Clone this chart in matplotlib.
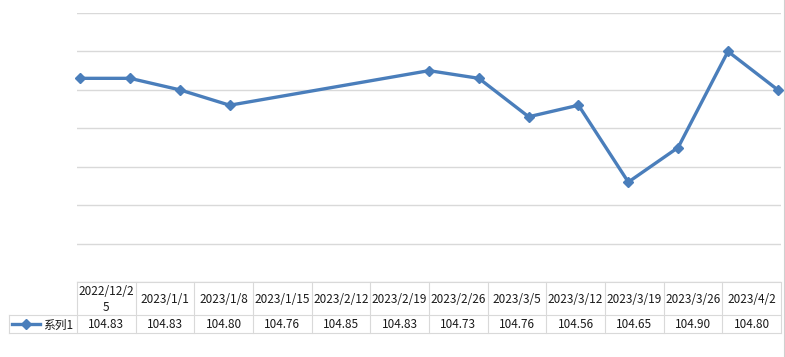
import numpy as np
import matplotlib
matplotlib.use('Agg')
import matplotlib.pyplot as plt
from datetime import date

dates = [date(2022, 12, 25), date(2023, 1, 1), date(2023, 1, 8), date(2023, 1, 15),
         date(2023, 2, 12), date(2023, 2, 19), date(2023, 2, 26), date(2023, 3, 5),
         date(2023, 3, 12), date(2023, 3, 19), date(2023, 3, 26), date(2023, 4, 2)]
labels = ['2022/12/25', '2023/1/1', '2023/1/8', '2023/1/15', '2023/2/12', '2023/2/19',
          '2023/2/26', '2023/3/5', '2023/3/12', '2023/3/19', '2023/3/26', '2023/4/2']
values = [104.83, 104.83, 104.80, 104.76, 104.85, 104.83, 104.73, 104.76,
          104.56, 104.65, 104.90, 104.80]
series_name = '系列1'

plt.rcParams['font.family'] = ['Noto Sans CJK SC', 'DejaVu Sans']
plt.rcParams['font.size'] = 8.5

W, H = 785, 357
blue = '#4A7EBB'
grid = '#D9D9D9'
txtc = '#1a1a1a'

fig = plt.figure(figsize=(W / 100, H / 100), dpi=100)

# overlay in pixel coords (y down) for the data table
ov = fig.add_axes([0, 0, 1, 1])
ov.set_xlim(0, W)
ov.set_ylim(H, 0)
ov.axis('off')

left, right, top, bottom = 77, 781, 13, 282
ax = fig.add_axes([left / W, 1 - bottom / H, (right - left) / W, (bottom - top) / H])

days = np.array([(d - dates[0]).days for d in dates])
ax.plot(days, values, color=blue, lw=2.4, marker='D', ms=5.5, zorder=3, clip_on=False)
ax.set_xlim(-0.45, days[-1] + 0.45)
ax.set_ylim(104.3, 105.0)
ax.set_yticks(np.arange(104.3, 105.01, 0.1))
ax.yaxis.grid(True, color=grid, lw=1)
ax.set_xticks([])
ax.tick_params(left=False, labelleft=False)
for s in ax.spines.values():
    s.set_visible(False)
ax.patch.set_alpha(0)

# data table
n = len(labels)
xs = np.linspace(left, right, n + 1)
r0, r1, r2 = 282, 315, 333
lw = 0.8
ov.plot([left, right], [r0, r0], color=grid, lw=lw)
ov.plot([9, right], [r1, r1], color=grid, lw=lw)
ov.plot([9, right], [r2, r2], color=grid, lw=lw)
ov.plot([9, 9], [r1, r2], color=grid, lw=lw)
for x in xs:
    ov.plot([x, x], [r0, r2], color=grid, lw=lw)
for i, lab in enumerate(labels):
    cx = (xs[i] + xs[i + 1]) / 2
    txt = lab if len(lab) <= 9 else lab[:9] + '\n' + lab[9:]
    ov.text(cx, (r0 + r1) / 2 + 1, txt, ha='center', va='center',
            color=txtc, linespacing=1.25)
    ov.text(cx, (r1 + r2) / 2 + 1, f'{values[i]:.2f}', ha='center', va='center',
            color=txtc)

# legend key in table
ov.plot([12, 40], [(r1 + r2) / 2] * 2, color=blue, lw=2.4)
ov.plot([26], [(r1 + r2) / 2], color=blue, marker='D', ms=5)
ov.text(43, (r1 + r2) / 2 + 1, series_name, ha='left', va='center', fontsize=8.5,
        color=txtc)

# sheet edge on the right
ov.plot([783.5, 783.5], [0, H], color='#D0D0D0', lw=0.8)

fig.savefig('out.png', dpi=100)
